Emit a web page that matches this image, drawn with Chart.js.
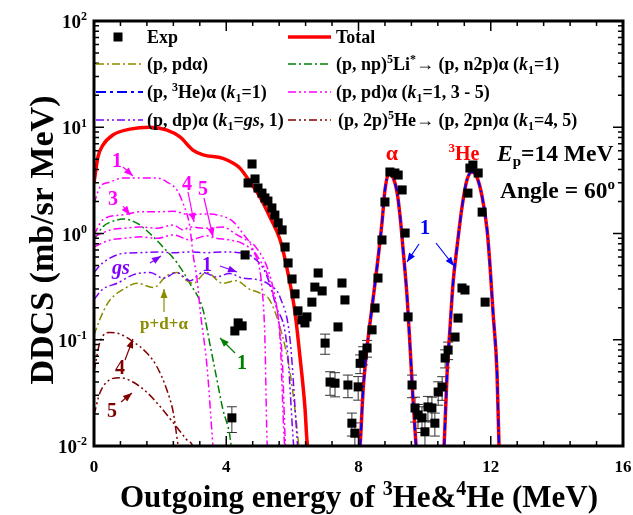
<!DOCTYPE html>
<html>
<head>
<meta charset="utf-8">
<script src="https://cdn.jsdelivr.net/npm/chart.js@4.4.0/dist/chart.umd.min.js"></script>
<style>
  html, body { margin: 0; padding: 0; background: #fff; }
  canvas { display: block; }
</style>
</head>
<body>
<canvas id="ddcs" width="633" height="515"></canvas>
<script>
// ---- data ----
const xTickLabels = [0, 4, 8, 12, 16];
const yTickPowers = [-2, -1, 0, 1, 2];

// experiment
const expE = [4.17, 4.26, 4.36, 4.48, 4.57, 4.66, 4.78, 4.87, 4.96,
  5.08, 5.17, 5.26, 5.38, 5.47, 5.57, 5.69, 5.78, 5.87, 5.99,
  6.08, 6.17, 6.29, 6.38, 6.44, 6.59, 6.68, 6.78, 6.90, 6.99,
  7.14, 7.29, 7.38, 7.50, 7.59, 7.68, 7.80, 7.89, 7.99,
  8.05, 8.14, 8.26, 8.41, 8.50, 8.59, 8.71, 8.80, 8.95,
  9.10, 9.20, 9.32, 9.41, 9.50, 9.62, 9.71, 9.80, 9.92,
  10.01, 10.10, 10.22, 10.31, 10.41, 10.53, 10.62, 10.71, 10.92,
  11.01, 11.13, 11.22, 11.31, 11.37, 11.46, 11.62, 11.74, 11.83];
const expV = [0.0184, 0.121, 0.144, 0.135, 0.628, 2.99, 4.51, 3.26, 2.68,
  2.40, 2.16, 2.02, 1.74, 1.49, 1.26, 1.08, 0.746, 0.528, 0.373,
  0.270, 0.187, 0.154, 0.144, 0.164, 0.226, 0.313, 0.425, 0.288, 0.093,
  0.040, 0.039, 0.132, 0.342, 0.237, 0.0375, 0.0164, 0.0132, 0.036,
  0.060, 0.072, 0.0836, 0.124, 0.199, 0.381, 0.869, 1.98, 3.79,
  3.71, 3.55, 2.57, 1.01, 0.164, 0.0375, 0.0228, 0.0196, 0.0184,
  0.0136, 0.0233, 0.0228, 0.0164, 0.0322, 0.0359, 0.0673, 0.080, 0.106,
  0.160, 0.307, 0.294, 2.40, 4.13, 4.41, 3.71, 1.59, 0.226];
const expErr = [0.005, 0, 0, 0, 0, 0, 0, 0, 0,
  0, 0, 0, 0, 0, 0, 0, 0, 0, 0,
  0, 0, 0, 0, 0, 0, 0, 0, 0, 0.02,
  0.01, 0.01, 0, 0, 0, 0.009, 0.004, 0.0033, 0.009,
  0.012, 0.014, 0.015, 0, 0, 0, 0, 0, 0,
  0, 0, 0, 0, 0, 0.009, 0.006, 0.005, 0.005,
  0.0035, 0.006, 0.006, 0.004, 0.008, 0.009, 0.013, 0.015, 0,
  0, 0, 0, 0, 0, 0, 0, 0, 0];

// total, low-energy part
const totalLowE = [0.0, 0.12, 0.27, 0.57, 1.09, 1.69, 2.21, 2.60, 2.99, 3.30, 3.90, 4.20, 4.42, 4.72,
  5.02, 5.32, 5.63, 5.87, 6.08, 6.23, 6.38, 6.44, 6.50];
const totalLowV = [3.0, 5.25, 6.8, 8.45, 9.6, 10.0, 9.4, 8.1, 6.1, 5.5, 5.1, 4.6, 4.1, 3.05,
  2.2, 1.43, 0.87, 0.42, 0.18, 0.069, 0.023, 0.0114, 0.008];
// (p, 3He)alpha k1=1 peaks
const alphaPeakE = [8.00, 8.05, 8.14, 8.26, 8.41, 8.56, 8.71, 8.80, 8.92, 9.04, 9.17, 9.26, 9.35, 9.47, 9.56, 9.65, 9.74, 9.78];
const alphaPeakV = [0.007, 0.0102, 0.0336, 0.0855, 0.203, 0.484, 1.26, 2.56, 3.7, 3.4, 2.4, 1.43, 0.70, 0.252, 0.0855, 0.0271, 0.0102, 0.007];
const he3PeakE = [10.55, 10.59, 10.68, 10.77, 10.86, 10.98, 11.13, 11.28, 11.43, 11.58, 11.74, 11.89, 11.98, 12.07, 12.19, 12.25, 12.28];
const he3PeakV = [0.007, 0.0102, 0.0486, 0.132, 0.342, 0.746, 1.77, 3.19, 3.79, 3.4, 2.21, 1.08, 0.484, 0.179, 0.0486, 0.0102, 0.007];

// (p, pd alpha)
const pdaE = [0.0, 0.12, 0.3, 0.5, 0.9, 1.3, 1.8, 2.2, 2.5, 2.8, 3.0, 3.4, 3.9, 4.3, 4.7, 5.02, 5.3, 5.63, 5.93, 6.17, 6.22];
const pdaV = [0.11, 0.14, 0.19, 0.24, 0.30, 0.34, 0.31, 0.40, 0.43, 0.36, 0.34, 0.43, 0.34, 0.36, 0.30, 0.275, 0.24, 0.13, 0.049, 0.012, 0.008];
// (p, np)5Li* k1=1
const li5E = [0.0, 0.27, 0.7, 0.88, 1.3, 1.69, 2.08, 2.51, 2.9, 3.3, 3.5, 3.7, 3.9, 4.1, 4.15, 4.2];
const li5V = [0.87, 1.16, 1.34, 1.37, 1.25, 1.0, 0.75, 0.53, 0.34, 0.19, 0.093, 0.045, 0.022, 0.013, 0.01, 0.008];
// (p, pd)alpha k1 = 1, 3, 4, 5
const pd1E = [0.0, 0.18, 0.48, 0.88, 1.39, 1.91, 2.21, 2.51, 2.69, 2.90, 2.99, 3.12, 3.21, 3.42, 3.60, 3.65];
const pd1V = [1.9, 2.74, 3.05, 3.33, 3.33, 3.33, 3.05, 2.56, 1.94, 1.15, 0.655, 0.365, 0.19, 0.0555, 0.01, 0.007];
const pd3E = [0.0, 0.27, 0.88, 1.39, 1.91, 2.40, 2.90, 3.40, 3.90, 4.20, 4.50, 4.81, 5.08, 5.17, 5.23, 5.26];
const pd3V = [0.97, 1.35, 1.5, 1.6, 1.6, 1.62, 1.5, 1.53, 1.45, 1.3, 1.0, 0.70, 0.31, 0.10, 0.012, 0.008];
const pd4E = [0.0, 0.5, 0.9, 1.4, 1.9, 2.4, 2.7, 2.9, 3.4, 3.9, 4.3, 4.6, 4.9, 5.3, 5.55, 5.7, 5.78, 5.82];
const pd4V = [0.93, 1.08, 1.12, 1.15, 1.12, 1.2, 1.08, 1.15, 1.12, 1.15, 0.98, 0.87, 0.74, 0.42, 0.18, 0.06, 0.012, 0.008];
const pd5E = [0.0, 0.5, 0.9, 1.4, 1.9, 2.4, 2.9, 3.4, 3.7, 4.1, 4.51, 4.96, 5.41, 5.63, 5.75, 5.8];
const pd5V = [0.75, 0.87, 0.9, 0.93, 0.9, 0.97, 0.87, 0.95, 0.9, 0.87, 0.80, 0.60, 0.275, 0.10, 0.012, 0.008];
// (p, dp)alpha k1 = gs, 1
const dpGsE = [0.0, 0.27, 0.88, 1.4, 1.9, 2.4, 2.9, 3.4, 3.9, 4.4, 4.8, 5.2, 5.5, 5.84, 6.02, 6.06];
const dpGsV = [0.43, 0.53, 0.65, 0.66, 0.67, 0.66, 0.67, 0.66, 0.67, 0.66, 0.6, 0.42, 0.21, 0.085, 0.012, 0.008];
const dp1E = [0.0, 0.27, 0.7, 1.2, 1.7, 2.1, 2.5, 2.9, 3.3, 3.7, 4.1, 4.5, 4.9, 5.3, 5.63, 5.93, 6.14, 6.18];
const dp1V = [0.24, 0.30, 0.34, 0.41, 0.43, 0.38, 0.43, 0.36, 0.43, 0.39, 0.42, 0.38, 0.37, 0.33, 0.25, 0.10, 0.012, 0.008];
// (p, 2p)5He k1 = 4, 5
const he5k4E = [0.0, 0.18, 0.48, 0.79, 1.18, 1.6, 1.9, 2.2, 2.4, 2.55, 2.6];
const he5k4V = [0.05, 0.095, 0.117, 0.113, 0.096, 0.075, 0.056, 0.034, 0.0205, 0.0098, 0.008];
const he5k5E = [0.0, 0.18, 0.48, 0.79, 1.18, 1.6, 2.0, 2.4, 2.8, 3.0, 3.05];
const he5k5V = [0.0196, 0.0317, 0.042, 0.044, 0.040, 0.032, 0.0235, 0.0165, 0.0115, 0.0097, 0.008];

// ---- helpers ----
const FONT = '"Liberation Serif", "Times New Roman", serif';
const C = {
  red: '#ff0000', blue: '#0000ff', olive: '#8b8b00', green: '#008000',
  magenta: '#ff00ff', violet: '#8000ff', darkred: '#800000'
};
const DASH2 = [8, 3, 2, 3, 2, 3];
const DASH1 = [8, 3, 2, 3];

function zip(xs, ys) {
  return xs.map((x, i) => ({ x: x, y: ys[i] }));
}
const gap = (x) => [{ x: x, y: null }];

function lineSet(label, data, color, dash, width, order) {
  return {
    label: label, data: data, showLine: true, borderColor: color, backgroundColor: color,
    borderWidth: width, borderDash: dash, pointRadius: 0, pointHoverRadius: 0,
    cubicInterpolationMode: 'monotone', order: order
  };
}

// draws text made of normal / sup / sub pieces; y = baseline
function rich(ctx, parts, x, y, align, base, color) {
  const seg = parts.map(p => {
    const kind = p[1] || '';
    const size = kind ? Math.round(base * 0.64) : base;
    const font = (p[2] ? 'italic ' : '') + 'bold ' + size + 'px ' + FONT;
    ctx.font = font;
    const dy = kind === 'sup' ? -base * 0.4 : (kind === 'sub' ? base * 0.22 : 0);
    return { t: p[0], font: font, w: ctx.measureText(p[0]).width, dy: dy };
  });
  const total = seg.reduce((s, g) => s + g.w, 0);
  let cx = align === 'center' ? x - total / 2 : (align === 'right' ? x - total : x);
  ctx.fillStyle = color;
  ctx.textAlign = 'left';
  ctx.textBaseline = 'alphabetic';
  seg.forEach(g => { ctx.font = g.font; ctx.fillText(g.t, cx, y + g.dy); cx += g.w; });
  return total;
}

function arrow(ctx, x1, y1, x2, y2, color) {
  ctx.save();
  ctx.setLineDash([]);
  ctx.strokeStyle = color;
  ctx.fillStyle = color;
  ctx.lineWidth = 1.2;
  ctx.beginPath(); ctx.moveTo(x1, y1); ctx.lineTo(x2, y2); ctx.stroke();
  const a = Math.atan2(y2 - y1, x2 - x1), L = 9, W = 3.5;
  ctx.beginPath();
  ctx.moveTo(x2, y2);
  ctx.lineTo(x2 - L * Math.cos(a) + W * Math.sin(a), y2 - L * Math.sin(a) - W * Math.cos(a));
  ctx.lineTo(x2 - L * Math.cos(a) - W * Math.sin(a), y2 - L * Math.sin(a) + W * Math.cos(a));
  ctx.closePath();
  ctx.fill();
  ctx.restore();
}

// ---- error bars under the squares ----
const errorBars = {
  id: 'errorBars',
  beforeDatasetsDraw(chart) {
    const { ctx, scales: { x, y } } = chart;
    ctx.save();
    ctx.strokeStyle = '#333';
    ctx.lineWidth = 1;
    expE.forEach((e, i) => {
      if (!expErr[i]) return;
      const px = x.getPixelForValue(e);
      const y1 = y.getPixelForValue(expV[i] + expErr[i]);
      const y2 = y.getPixelForValue(Math.max(expV[i] - expErr[i], 0.001));
      ctx.beginPath();
      ctx.moveTo(px, y1); ctx.lineTo(px, y2);
      ctx.moveTo(px - 5, y1); ctx.lineTo(px + 5, y1);
      ctx.moveTo(px - 5, y2); ctx.lineTo(px + 5, y2);
      ctx.stroke();
    });
    ctx.restore();
  }
};

// ---- frame, inward ticks, labels, legend, annotations ----
const decorations = {
  id: 'decorations',
  afterDraw(chart) {
    const { ctx, chartArea: a, scales: { x, y } } = chart;
    ctx.save();
    ctx.setLineDash([]);
    ctx.strokeStyle = '#000';

    // ticks
    ctx.lineWidth = 1.5;
    ctx.beginPath();
    for (let i = 0; i <= 20; i++) {
      const px = x.getPixelForValue(i * 0.8);
      const len = i % 5 === 0 ? 10 : 5;
      ctx.moveTo(px, a.bottom); ctx.lineTo(px, a.bottom - len);
      ctx.moveTo(px, a.top); ctx.lineTo(px, a.top + len);
    }
    for (let p = -2; p < 2; p++) {
      for (let m = 1; m <= 9; m++) {
        const py = y.getPixelForValue(m * Math.pow(10, p));
        const len = m === 1 ? 10 : 5;
        ctx.moveTo(a.left, py); ctx.lineTo(a.left + len, py);
        ctx.moveTo(a.right, py); ctx.lineTo(a.right - len, py);
      }
    }
    ctx.stroke();

    // frame
    ctx.lineWidth = 3;
    ctx.strokeRect(a.left, a.top, a.right - a.left, a.bottom - a.top);

    // tick labels
    ctx.fillStyle = '#000';
    ctx.font = 'bold 17px ' + FONT;
    ctx.textAlign = 'center';
    ctx.textBaseline = 'middle';
    xTickLabels.forEach(v => ctx.fillText(String(v), x.getPixelForValue(v), 468));
    yTickPowers.forEach(p => {
      rich(ctx, [['10'], [String(p), 'sup']], 87, y.getPixelForValue(Math.pow(10, p)) + 7, 'right', 19, '#000');
    });

    // axis titles
    ctx.save();
    ctx.translate(44, 240);
    ctx.rotate(-Math.PI / 2);
    ctx.font = 'bold 34px ' + FONT;
    ctx.textAlign = 'center';
    ctx.textBaseline = 'middle';
    ctx.fillText('DDCS (mb/sr MeV)', 0, 0);
    ctx.restore();
    rich(ctx, [['Outgoing energy of '], ['3', 'sup'], ['He&'], ['4', 'sup'], ['He (MeV)']], 359, 507, 'center', 31, '#000');

    // legend
    const col1 = 96, col2 = 288, rows = [37, 64, 92, 120], F = 18;
    ctx.fillStyle = '#000';
    ctx.fillRect(118 - 4.5, rows[0] - 4.5, 9, 9);
    rich(ctx, [['Exp']], 147, rows[0] + 6, 'left', F, '#000');
    const sample = (x0, x1, yy, color, dash, w) => {
      ctx.save();
      ctx.strokeStyle = color; ctx.lineWidth = w; ctx.setLineDash(dash);
      ctx.beginPath(); ctx.moveTo(x0, yy); ctx.lineTo(x1, yy); ctx.stroke();
      ctx.restore();
    };
    sample(col2, col2 + 43, rows[0], C.red, [], 3.5);
    rich(ctx, [['Total']], 336, rows[0] + 6, 'left', F, '#000');
    sample(col1, col1 + 47, rows[1], C.olive, DASH1, 1.5);
    rich(ctx, [['(p, pd\u03b1)']], 147, rows[1] + 6, 'left', F, '#000');
    sample(col2, col2 + 43, rows[1], C.green, DASH1, 1.5);
    rich(ctx, [['(p, np)'], ['5', 'sup'], ['Li'], ['*', 'sup'], ['\u2192 (p, n2p)\u03b1 ('], ['k', '', true], ['1', 'sub'], ['=1)']],
      336, rows[1] + 6, 'left', F, '#000');
    sample(col1, col1 + 47, rows[2], C.blue, [10, 4, 3, 4], 2);
    rich(ctx, [['(p, '], ['3', 'sup'], ['He)\u03b1 ('], ['k', '', true], ['1', 'sub'], ['=1)']], 147, rows[2] + 6, 'left', F, '#000');
    sample(col2, col2 + 43, rows[2], C.magenta, DASH2, 1.5);
    rich(ctx, [['(p, pd)\u03b1 ('], ['k', '', true], ['1', 'sub'], ['=1, 3 - 5)']], 336, rows[2] + 6, 'left', F, '#000');
    sample(col1, col1 + 47, rows[3], C.violet, DASH2, 1.5);
    rich(ctx, [['(p, dp)\u03b1 ('], ['k', '', true], ['1', 'sub'], ['='], ['gs', '', true], [', 1)']], 147, rows[3] + 6, 'left', F, '#000');
    sample(col2, col2 + 43, rows[3], C.darkred, DASH2, 1.5);
    rich(ctx, [['(p, 2p)'], ['5', 'sup'], ['He\u2192 (p, 2pn)\u03b1 ('], ['k', '', true], ['1', 'sub'], ['=4, 5)']],
      338, rows[3] + 6, 'left', F, '#000');

    // conditions
    rich(ctx, [['E', '', true], ['p', 'sub'], ['=14 MeV']], 497, 161, 'left', 23.5, '#000');
    rich(ctx, [['Angle = 60'], ['o', 'sup']], 500, 198, 'left', 23.5, '#000');

    // peak labels
    rich(ctx, [['\u03b1']], 392, 160, 'center', 22, C.red);
    rich(ctx, [['3', 'sup'], ['He']], 464, 160, 'center', 20, C.red);
    rich(ctx, [['1']], 425, 234, 'center', 20, C.blue);
    arrow(ctx, 419, 244, 407, 262, C.blue);
    arrow(ctx, 436, 243, 454, 266, C.blue);

    // component labels
    rich(ctx, [['1']], 117, 167, 'center', 20, C.magenta);
    arrow(ctx, 123, 167, 133, 176, C.magenta);
    rich(ctx, [['3']], 113, 205, 'center', 20, C.magenta);
    arrow(ctx, 123, 206, 130, 215, C.magenta);
    rich(ctx, [['4']], 187, 190, 'center', 20, C.magenta);
    arrow(ctx, 188, 192, 194, 222, C.magenta);
    rich(ctx, [['5']], 203, 195, 'center', 20, C.magenta);
    arrow(ctx, 204, 198, 213, 237, C.magenta);
    rich(ctx, [['gs', '', true]], 121, 274, 'center', 20, C.violet);
    arrow(ctx, 150, 263, 161, 256, C.violet);
    rich(ctx, [['1']], 207, 271, 'center', 20, C.violet);
    arrow(ctx, 220, 266, 237, 272, C.violet);
    arrow(ctx, 164, 312, 164, 289, C.olive);
    rich(ctx, [['p+d+\u03b1']], 164, 329, 'center', 17, C.olive);
    rich(ctx, [['1']], 242, 369, 'center', 20, C.green);
    arrow(ctx, 235, 353, 220, 338, C.green);
    rich(ctx, [['4']], 120, 374, 'center', 20, C.darkred);
    arrow(ctx, 125, 360, 133, 339, C.darkred);
    rich(ctx, [['5']], 112, 417, 'center', 20, C.darkred);
    arrow(ctx, 121, 402, 132, 393, C.darkred);

    ctx.restore();
  }
};

// ---- chart ----
const peaks = zip(alphaPeakE, alphaPeakV).concat(gap(10.1), zip(he3PeakE, he3PeakV));
const totalData = zip(totalLowE, totalLowV).concat(gap(7.2), peaks);

new Chart(document.getElementById('ddcs'), {
  type: 'scatter',
  data: {
    datasets: [
      {
        label: 'Exp', data: zip(expE, expV), pointStyle: 'rect', pointRadius: 6.4,
        backgroundColor: '#000', borderColor: '#000', borderWidth: 0, showLine: false, order: 0
      },
      lineSet('(p, 3He)a (k1=1)', peaks, C.blue, [8, 3, 2, 3], 2, 1),
      lineSet('Total', totalData, C.red, [], 3.5, 2),
      lineSet('(p, pd)a k1=1', zip(pd1E, pd1V), C.magenta, DASH2, 1.5, 3),
      lineSet('(p, pd)a k1=3', zip(pd3E, pd3V), C.magenta, DASH2, 1.5, 3),
      lineSet('(p, pd)a k1=4', zip(pd4E, pd4V), C.magenta, DASH2, 1.5, 3),
      lineSet('(p, pd)a k1=5', zip(pd5E, pd5V), C.magenta, DASH2, 1.5, 3),
      lineSet('(p, dp)a k1=gs', zip(dpGsE, dpGsV), C.violet, DASH2, 1.5, 3),
      lineSet('(p, dp)a k1=1', zip(dp1E, dp1V), C.violet, DASH2, 1.5, 3),
      lineSet('(p, pda)', zip(pdaE, pdaV), C.olive, DASH1, 1.5, 3),
      lineSet('(p, np)5Li*', zip(li5E, li5V), C.green, DASH1, 1.5, 3),
      lineSet('(p, 2p)5He k1=4', zip(he5k4E, he5k4V), C.darkred, DASH2, 1.5, 3),
      lineSet('(p, 2p)5He k1=5', zip(he5k5E, he5k5V), C.darkred, DASH2, 1.5, 3)
    ]
  },
  options: {
    responsive: false,
    animation: false,
    events: [],
    layout: { padding: { left: 94, right: 10, top: 21, bottom: 69 } },
    scales: {
      x: { type: 'linear', min: 0, max: 16, display: false },
      y: { type: 'logarithmic', min: 0.01, max: 100, display: false }
    },
    plugins: {
      legend: { display: false },
      tooltip: { enabled: false }
    }
  },
  plugins: [errorBars, decorations]
});
</script>
</body>
</html>
